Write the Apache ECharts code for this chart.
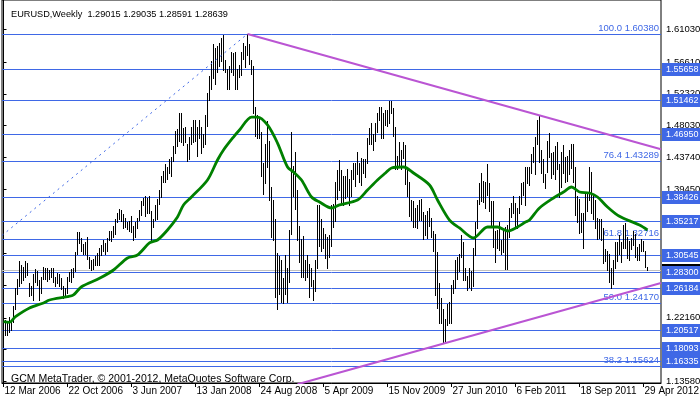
<!DOCTYPE html>
<html><head><meta charset="utf-8">
<script src="https://cdn.jsdelivr.net/npm/echarts@6/dist/echarts.min.js"></script>
<style>html,body{margin:0;padding:0;background:#fff}#c{width:700px;height:402px}</style>
</head><body><div id="c"></div>
<script>
// Weekly bars, week index 0 = 12 Mar 2006
const weekLow = [
1.1920,1.1990,1.1980,1.2030,1.2050,1.2160,1.2330,1.2530,1.2640,1.2690,
1.2720,1.2770,1.2790,1.2510,1.2520,1.2460,1.2700,1.2660,1.2460,1.2550,
1.2740,1.2740,1.2710,1.2740,1.2770,1.2700,1.2650,1.2680,1.2650,1.2600,
1.2480,1.2500,1.2550,1.2710,1.2700,1.2760,1.2850,1.3080,1.3220,1.3120,
1.3070,1.3080,1.3010,1.2880,1.2860,1.2870,1.2930,1.2920,1.2930,1.3060,
1.3120,1.3080,1.3120,1.3260,1.3250,1.3310,1.3340,1.3510,1.3540,1.3520,
1.3420,1.3440,1.3410,1.3380,1.3370,1.3260,1.3310,1.3420,1.3530,1.3600,
1.3730,1.3590,1.3620,1.3620,1.3260,1.3440,1.3530,1.3550,1.3750,1.3840,
1.4040,1.4050,1.4090,1.4160,1.4130,1.4330,1.4430,1.4530,1.4600,1.4580,
1.4540,1.4580,1.4330,1.4350,1.4560,1.4580,1.4600,1.4400,1.4640,1.4440,
1.4520,1.4560,1.4800,1.5150,1.5300,1.5450,1.5370,1.5520,1.5600,1.5680,
1.5550,1.5520,1.5290,1.5290,1.5520,1.5490,1.5300,1.5290,1.5460,1.5480,
1.5700,1.5590,1.5760,1.5630,1.5500,1.4980,1.4660,1.4640,1.4640,1.4120,
1.3880,1.4030,1.4250,1.3800,1.3300,1.3260,1.2500,1.2330,1.2530,1.2430,
1.2420,1.2530,1.2430,1.2700,1.3350,1.3860,1.3680,1.3260,1.2970,1.2770,
1.2760,1.2720,1.2760,1.2500,1.2640,1.2460,1.2580,1.2880,1.3180,1.3110,
1.3150,1.3020,1.2880,1.3040,1.3180,1.3440,1.3520,1.3810,1.3940,1.3750,
1.3740,1.3830,1.3850,1.3740,1.3850,1.4080,1.3990,1.4150,1.4050,1.4000,
1.4170,1.4110,1.4300,1.4560,1.4550,1.4480,1.4600,1.4720,1.4880,1.4640,
1.4630,1.4810,1.4800,1.4840,1.4970,1.4670,1.4220,1.4220,1.4240,1.4220,
1.4370,1.4020,1.3860,1.3580,1.3530,1.3440,1.3440,1.3430,1.3530,1.3530,
1.3270,1.3330,1.3290,1.3450,1.3300,1.3110,1.2520,1.2350,1.2140,1.2140,
1.1880,1.1876,1.2120,1.2150,1.2150,1.2550,1.2610,1.2740,1.2850,1.3030,
1.2730,1.2720,1.2590,1.2630,1.2590,1.2650,1.3060,1.3420,1.3750,1.3790,
1.3780,1.3690,1.3870,1.3660,1.3440,1.3170,1.2970,1.3150,1.3130,1.3070,
1.3100,1.2870,1.2870,1.3300,1.3570,1.3620,1.3440,1.3430,1.3620,1.3750,
1.3870,1.3740,1.4030,1.4010,1.4160,1.4320,1.4150,1.4550,1.4310,1.4160,
1.4050,1.3970,1.4180,1.4380,1.4100,1.4150,1.4080,1.4220,1.3840,1.3980,
1.4160,1.4050,1.4060,1.4150,1.4230,1.4050,1.3600,1.3500,1.3360,1.3370,
1.3150,1.3530,1.3660,1.3800,1.3630,1.3550,1.3420,1.3280,1.3290,1.3260,
1.2950,1.2980,1.2860,1.2700,1.2620,1.2670,1.2880,1.2980,1.3070,1.2970,
1.3150,1.3160,1.3020,1.2990,1.3140,1.3190,1.3030,1.3000,1.3000,1.3110,
1.3110,1.2900,1.28591];
const weekHigh = [
1.2150,1.2190,1.2150,1.2230,1.2190,1.2380,1.2620,1.2740,1.2980,1.2930,
1.2900,1.2980,1.2960,1.2680,1.2640,1.2800,1.2870,1.2840,1.2720,1.2760,
1.2900,1.2890,1.2880,1.2860,1.2880,1.2880,1.2770,1.2820,1.2800,1.2750,
1.2650,1.2620,1.2760,1.2830,1.2870,1.2890,1.3100,1.3370,1.3370,1.3290,
1.3210,1.3230,1.3300,1.3030,1.2990,1.3010,1.3050,1.3090,1.3160,1.3200,
1.3260,1.3220,1.3290,1.3380,1.3380,1.3450,1.3550,1.3620,1.3680,1.3670,
1.3610,1.3560,1.3500,1.3520,1.3590,1.3450,1.3500,1.3560,1.3670,1.3790,
1.3830,1.3850,1.3830,1.3850,1.3660,1.3550,1.3740,1.3820,1.3940,1.4120,
1.4190,1.4280,1.4250,1.4350,1.4380,1.4530,1.4730,1.4760,1.4970,1.4970,
1.4770,1.4780,1.4560,1.4650,1.4780,1.4880,1.4880,1.4780,1.4880,1.4780,
1.4690,1.4950,1.5240,1.5470,1.5670,1.5900,1.5850,1.5880,1.5920,1.5990,
1.6020,1.5690,1.5570,1.5600,1.5800,1.5780,1.5800,1.5570,1.5620,1.5800,
1.5920,1.5880,1.6038,1.5900,1.5690,1.5600,1.5050,1.4940,1.4920,1.4720,
1.4300,1.4560,1.4870,1.4600,1.3980,1.3800,1.3550,1.3090,1.3050,1.3000,
1.2750,1.3060,1.2880,1.3400,1.4720,1.4260,1.4450,1.3940,1.3450,1.3270,
1.3320,1.3000,1.3060,1.2940,1.2890,1.2730,1.3000,1.3740,1.3740,1.3550,
1.3420,1.3340,1.3300,1.3330,1.3740,1.3750,1.4050,1.4200,1.4340,1.4200,
1.4120,1.4120,1.4220,1.4080,1.4200,1.4300,1.4300,1.4450,1.4300,1.4370,
1.4360,1.4360,1.4630,1.4770,1.4840,1.4690,1.4840,1.4970,1.5060,1.5060,
1.4970,1.5020,1.5020,1.5140,1.5140,1.5040,1.4790,1.4400,1.4580,1.4480,
1.4580,1.4540,1.4210,1.4050,1.3800,1.3790,1.3690,1.3740,1.3800,1.3820,
1.3640,1.3600,1.3660,1.3690,1.3560,1.3390,1.3340,1.3100,1.2680,1.2480,
1.2330,1.2200,1.2400,1.2430,1.2660,1.2720,1.3000,1.3040,1.3080,1.3330,
1.3230,1.2890,1.2780,1.2890,1.2850,1.3160,1.3500,1.3800,1.4030,1.4160,
1.4060,1.4040,1.4280,1.4030,1.3790,1.3790,1.3390,1.3400,1.3500,1.3260,
1.3400,1.3440,1.3460,1.3690,1.3760,1.3860,1.3760,1.3690,1.3860,1.4030,
1.4040,1.4240,1.4250,1.4250,1.4420,1.4520,1.4650,1.4880,1.4940,1.4480,
1.4350,1.4150,1.4590,1.4700,1.4440,1.4450,1.4530,1.4580,1.4280,1.4450,
1.4540,1.4380,1.4400,1.4480,1.4550,1.4550,1.4240,1.3850,1.3810,1.3630,
1.3630,1.3900,1.3900,1.4250,1.4180,1.3870,1.3800,1.3560,1.3550,1.3550,
1.3430,1.3140,1.3120,1.3080,1.2880,1.2990,1.3240,1.3230,1.3330,1.3230,
1.3460,1.3490,1.3300,1.3250,1.3290,1.3390,1.3350,1.3170,1.3210,1.3280,
1.3250,1.3110,1.29035];

// Moving average (green) read at sampled weeks
const maWeeks  = [0,3,6,13,20,23,32,35,39,48,55,62,67,73,77,82,87,90,94,102,107,110,115,118,124,127,132,137,142,145,149,154,158,164,168,177,182,187,191,194,200,205,213,217,223,228,235,242,247,252,257,261,263,268,275,280,284,288,293,297,302,307,312,318,322];
const maValues = [1.2163,1.2155,1.2230,1.2347,1.2415,1.2455,1.2500,1.2523,1.2634,1.2747,1.2859,1.3021,1.3061,1.3223,1.3263,1.3398,1.3573,1.3735,1.3842,1.4071,1.4340,1.4475,1.4650,1.4744,1.4919,1.4919,1.4812,1.4569,1.4246,1.4179,1.4071,1.3842,1.3775,1.3694,1.3735,1.3802,1.3936,1.4071,1.4165,1.4233,1.4246,1.4165,1.4004,1.3802,1.3532,1.3425,1.3290,1.3438,1.3438,1.3384,1.3438,1.3505,1.3532,1.3694,1.3829,1.3909,1.3977,1.3909,1.3896,1.3842,1.3707,1.3599,1.3532,1.3465,1.3398];

const xTickWeeks  = [0,32,64,96,128,160,192,224,256,288,320];
const xTickLabels = ['12 Mar 2006','22 Oct 2006','3 Jun 2007','13 Jan 2008','24 Aug 2008','5 Apr 2009','15 Nov 2009','27 Jun 2010','6 Feb 2011','18 Sep 2011','29 Apr 2012'];
const yTickValues = [1.13580,1.17870,1.22160,1.26580,1.30870,1.35160,1.39450,1.43740,1.48030,1.52320,1.56610,1.61030];

const levelPrices = [1.60380,1.55658,1.51462,1.46950,1.43289,1.38426,1.35217,1.32716,1.30545,1.28300,1.26184,1.24170,1.20517,1.18093,1.16335,1.15624];
const boxedLevels = [1.55658,1.51462,1.46950,1.38426,1.35217,1.30545,1.28300,1.26184,1.20517,1.18093,1.16335];
const fibPrices = [1.60380,1.43289,1.32716,1.24170,1.15624];
const fibRatios = ['100.0','76.4','61.8','50.0','38.2'];
const upperTrend = [[122,1.60380],[328.75,1.4485]];
const lowerTrend = [[147,1.1320],[328.75,1.2685]];
const fibBase = [[-0.75,1.3324],[122,1.60380]];
const bidPrice = 1.28639;
const titleText = 'EURUSD,Weekly  1.29015 1.29035 1.28591 1.28639';
const copyText = 'GCM MetaTrader, \u00a9 2001-2012, MetaQuotes Software Corp.';

const BLUE = '#3F68E6';
const FONT = '"Liberation Sans", Arial, sans-serif';

const barData = weekLow.map((lo, i) => [i, lo, weekHigh[i]]);
const maData = maWeeks.map((w, i) => [w, maValues[i]]);
const fibData = fibPrices.map((p, i) => [0, p]);

const chart = echarts.init(document.getElementById('c'), null, {renderer: 'canvas'});
chart.setOption({
  animation: false,
  backgroundColor: '#fff',
  title: [{
    text: titleText, left: 6, top: 5,
    textStyle: {fontSize: 9.2, fontWeight: 'normal', color: '#000', fontFamily: FONT}
  }, {
    text: copyText, left: 6, top: 369,
    textStyle: {fontSize: 10.5, fontWeight: 'normal', color: '#000', fontFamily: FONT}
  }],
  grid: {left: 2, right: 39, top: 0, bottom: 19, show: true, borderColor: '#000', borderWidth: 1, backgroundColor: '#fff', containLabel: false, outerBoundsMode: 'none'},
  xAxis: {
    type: 'value', min: -0.75, max: 328.75,
    axisLine: {show: true, lineStyle: {color: '#000', width: 1}},
    axisTick: {show: true, customValues: xTickWeeks, length: 4, lineStyle: {color: '#000'}},
    axisLabel: {customValues: xTickWeeks, formatter: v => xTickLabels[xTickWeeks.indexOf(Math.round(v))] || '', align: 'left', margin: 3, fontSize: 10, color: '#000', fontFamily: FONT, padding: [0,0,0,1]},
    splitLine: {show: false}
  },
  yAxis: {
    type: 'value', position: 'right', min: 1.13374, max: 1.64950, scale: true,
    axisLine: {show: true, lineStyle: {color: '#000', width: 1}},
    axisTick: {show: true, customValues: yTickValues, length: 3, lineStyle: {color: '#000'}},
    axisLabel: {customValues: yTickValues, formatter: v => v.toFixed(5), margin: 5, fontSize: 9.5, color: '#000', fontFamily: FONT},
    splitLine: {show: false}
  },
  series: [
    { // horizontal level lines
      type: 'custom', z: 1, clip: false,
      data: levelPrices.map(p => [0, p]),
      renderItem: (params, api) => {
        const cs = params.coordSys;
        const y = Math.round(api.coord([0, api.value(1)])[1]) + 0.5;
        return {type: 'line', shape: {x1: cs.x, y1: y, x2: cs.x + cs.width, y2: y}, style: {stroke: BLUE, lineWidth: 1}};
      }
    },
    { // fibonacci level texts
      type: 'custom', z: 2, clip: false,
      data: fibData,
      renderItem: (params, api) => {
        const cs = params.coordSys;
        const y = Math.round(api.coord([0, api.value(1)])[1]);
        const p = api.value(1);
        return {type: 'text', style: {x: cs.x + cs.width - 2, y: y - 1, text: fibRatios[params.dataIndex] + ' ' + p.toFixed(5), fill: BLUE, font: '9.5px ' + FONT, align: 'right', verticalAlign: 'bottom'}};
      }
    },
    { // bid line
      type: 'custom', z: 1, clip: false,
      data: [[0, bidPrice]],
      renderItem: (params, api) => {
        const cs = params.coordSys;
        const y = Math.round(api.coord([0, api.value(1)])[1]) + 0.5;
        return {type: 'line', shape: {x1: cs.x, y1: y, x2: cs.x + cs.width, y2: y}, style: {stroke: '#C0C0C0', lineWidth: 1}};
      }
    },
    { // weekly bars
      type: 'custom', z: 3,
      data: barData,
      renderItem: (params, api) => {
        const w = api.value(0);
        const top = api.coord([w, api.value(2)]);
        const bot = api.coord([w, api.value(1)]);
        const x = Math.round(top[0] - 0.5) + 0.5;
        return {type: 'line', shape: {x1: x, y1: Math.round(top[1]), x2: x, y2: Math.round(bot[1]) + 1}, style: {stroke: '#000', lineWidth: 1}};
      }
    },
    {
      type: 'line', z: 4, data: maData, showSymbol: false, smooth: 0.3,
      lineStyle: {color: '#008000', width: 2.8}
    },
    {
      type: 'line', z: 5, data: fibBase, showSymbol: false,
      lineStyle: {color: BLUE, width: 1, type: [2, 4]}
    },
    {
      type: 'line', z: 5, data: upperTrend, showSymbol: false,
      lineStyle: {color: '#BA55D3', width: 2}
    },
    {
      type: 'line', z: 5, data: lowerTrend, showSymbol: false,
      lineStyle: {color: '#BA55D3', width: 2}
    },
    { // axis price boxes
      type: 'custom', z: 10, clip: false,
      data: [[0, bidPrice, 1]].concat(boxedLevels.map(p => [0, p, 0])),
      renderItem: (params, api) => {
        const cs = params.coordSys;
        const y = Math.round(api.coord([0, api.value(1)])[1]);
        const isBid = api.value(2) === 1;
        const x0 = cs.x + cs.width + 1;
        return {type: 'group', children: [
          {type: 'rect', shape: {x: x0, y: y - 6, width: 700 - x0, height: 13}, style: {fill: isBid ? '#000' : BLUE}},
          {type: 'text', style: {x: x0 + 4, y: y + 0.5, text: api.value(1).toFixed(5), fill: '#fff', font: '9px ' + FONT, verticalAlign: 'middle'}}
        ]};
      }
    }
  ]
});
</script></body></html>
